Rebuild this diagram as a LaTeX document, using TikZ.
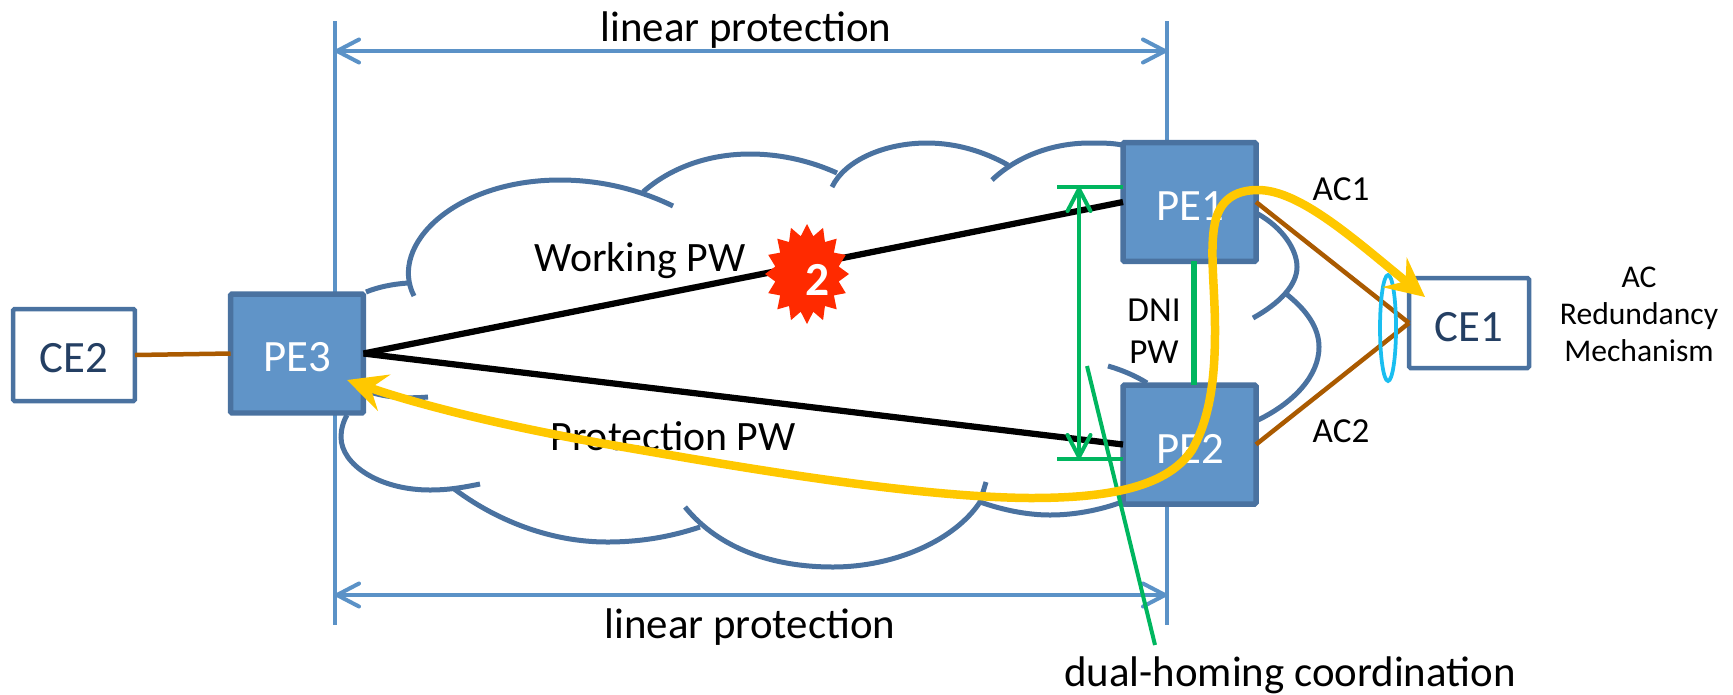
\documentclass[tikz,border=0pt]{standalone}
\usepackage{fontspec}
\setmainfont{Carlito}
\usetikzlibrary{arrows.meta,shapes.geometric}
\definecolor{boxfill}{HTML}{6094C8}
\definecolor{boxline}{HTML}{4A72A0}
\definecolor{dimline}{HTML}{5B92C7}
\definecolor{ceink}{HTML}{243F63}
\definecolor{pwgreen}{HTML}{00B65F}
\definecolor{acbrown}{HTML}{AA5A00}
\definecolor{pathyellow}{HTML}{FFC800}
\definecolor{bundleblue}{HTML}{1ABEF0}
\definecolor{faultred}{HTML}{FF2A00}
\tikzset{
	pebox/.style={draw=boxline, fill=boxfill, line width=1.1mm, rounded corners=0.3mm, inner sep=0pt, outer sep=0pt, minimum width=2.66cm, minimum height=2.38cm},
	cebox/.style={draw=boxline, fill=white, line width=0.9mm, rounded corners=0.3mm, inner sep=0pt, outer sep=0pt},
	petext/.style={inner sep=0pt, text=white, font=\fontsize{25.5}{30}\selectfont},
	cetext/.style={inner sep=0pt, text=ceink, font=\fontsize{25.5}{30}\selectfont},
	biglabel/.style={inner sep=0pt, font=\fontsize{24.4}{30}\selectfont},
	midlabel/.style={inner sep=0pt, font=\fontsize{23.8}{30}\selectfont},
	smalllabel/.style={inner sep=0pt, align=center, font=\fontsize{20}{24}\selectfont},
	cloudline/.style={draw=boxline, line width=1mm},
	openboth/.style={line cap=round, {Straight Barb[length=4.4mm,width=4.6mm,line width=0.8mm,round]}-{Straight Barb[length=4.4mm,width=4.6mm,line width=0.8mm,round]}},
	dimrule/.style={draw=dimline, line width=0.7mm}
}

\begin{document}
\begin{tikzpicture}[x=0.02cm, y=-0.02cm]
	\useasboundingbox (0, 0) rectangle (1733, 694);
	%%%%% DIMENSIONS %%%%%
	\coordinate (topleft) at (335, 51);
	\coordinate (topright) at (1167, 51);
	\coordinate (botleft) at (335, 595);
	\coordinate (botright) at (1167, 595);
	\draw[dimrule] (335, 21) -- (335, 625);
	\draw[dimrule] (1167, 21) -- (1167, 141);
	\draw[dimrule] (1167, 505) -- (1167, 625);
	\draw[dimrule, openboth] (topleft) -- (topright);
	\draw[dimrule, openboth] (botleft) -- (botright);
	\node[biglabel] (lineartop) at (746, 30) {linear protection};
	\node[biglabel] (linearbot) at (750, 627) {linear protection};

	%%%%% CLOUD %%%%%
	\draw[cloudline] (366,292) .. controls (378,287) and (393,284) .. (408,283);
	\draw[cloudline] (414,296) .. controls (388,245) and (455,180) .. (560,180) .. controls (602,180) and (640,190) .. (673,206);
	\draw[cloudline] (643,192) .. controls (670,168) and (708,154) .. (750,154) .. controls (785,154) and (815,163) .. (837,173);
	\draw[cloudline] (832,187) .. controls (845,160) and (885,143) .. (927,143) .. controls (957,143) and (985,152) .. (1008,165);
	\draw[cloudline] (992,180) .. controls (1015,158) and (1050,143) .. (1090,143) .. controls (1102,143) and (1112,143) .. (1122,145);
	\draw[cloudline] (1258,214) .. controls (1283,228) and (1297,250) .. (1297,267) .. controls (1297,285) and (1280,303) .. (1253,318);
	\draw[cloudline] (1285,293) .. controls (1307,310) and (1319,328) .. (1319,347) .. controls (1319,375) and (1295,402) .. (1258,420);
	\draw[cloudline] (1108,366) .. controls (1122,370) and (1136,376) .. (1147,383);
	\draw[cloudline] (1122,502) .. controls (1100,510) and (1075,515) .. (1050,515) .. controls (1027,515) and (1003,510) .. (980,502);
	\draw[cloudline] (986,482) -- (980,502);
	\draw[cloudline] (980,502) .. controls (955,540) and (895,567) .. (833,567) .. controls (775,567) and (720,550) .. (685,507);
	\draw[cloudline] (700,527) .. controls (670,537) and (640,542) .. (607,542) .. controls (550,542) and (495,520) .. (453,488);
	\draw[cloudline] (480,484) .. controls (465,487) and (450,490) .. (430,490) .. controls (380,490) and (341,465) .. (341,437) .. controls (341,430) and (343,422) .. (347,415);
	\draw[cloudline] (370,392) .. controls (385,397) and (405,399) .. (428,397);

	%%%%% BOXES %%%%%
	\node[pebox] (pe1) at (1189.5, 202) {};
	\node[pebox] (pe2) at (1189.5, 444.5) {};
	\node[pebox] (pe3) at (297, 353.5) {};
	\node[cebox, minimum width=2.44cm, minimum height=1.84cm] (ce2) at (74, 355) {};
	\node[cebox, minimum width=2.4cm, minimum height=1.8cm] (ce1) at (1469, 323) {};
	\node[petext] (pe1text) at (1190, 206) {PE1};
	\node[petext] (pe2text) at (1190, 449) {PE2};
	\node[petext] (pe3text) at (297, 357) {PE3};
	\node[cetext] (ce2text) at (74, 358) {CE2};
	\node[cetext] (ce1text) at (1469, 327) {CE1};

	%%%%% PSEUDOWIRES %%%%%
	\draw[line width=1.25mm] (pe3.east) -- (pe1.west);
	\draw[line width=1.25mm] (pe3.east) -- (pe2.west);
	\node[star, star points=16, star point ratio=1.3, fill=faultred, inner sep=0pt, minimum size=2cm, xscale=0.84, transform shape] (fault) at (807, 274) {};
	\node[text=white, inner sep=0pt, font=\bfseries\fontsize{27}{30}\selectfont] (faultnum) at (818, 280) {2};
	\node[midlabel] (workinglabel) at (640, 261) {Working PW};
	\node[midlabel] (protectlabel) at (673, 436) {Protection PW};

	%%%%% ATTACHMENT CIRCUITS %%%%%
	\draw[acbrown, line width=0.9mm] (ce2.east) -- (pe3.west);
	\draw[acbrown, line width=0.9mm] (pe1.east) -- (ce1.west);
	\draw[acbrown, line width=0.9mm] (pe2.east) -- (ce1.west);
	\draw[bundleblue, line width=0.75mm] (1388, 328) ellipse (8 and 53);
	\node[smalllabel] (ac1label) at (1341, 189) {AC1};
	\node[smalllabel] (ac2label) at (1341, 431) {AC2};
	\node[smalllabel] (dnilabel) at (1154, 331) {DNI\\PW};
	\node[inner sep=0pt, align=center, font=\fontsize{18}{21}\selectfont] (redundlabel) at (1639, 314) {AC\\Redundancy\\Mechanism};

	%%%%% COORDINATION %%%%%
	\draw[pwgreen, line width=0.8mm] (1057, 187) -- (pe1.west |- 0, 187);
	\draw[pwgreen, line width=0.8mm] (1057, 459) -- (pe2.west |- 0, 459);
	\draw[pwgreen, line width=0.7mm, openboth] (1079, 187) -- (1079, 459);
	\draw[pwgreen, line width=1.2mm] ([xshift=0.08cm]pe1.south) -- ([xshift=0.08cm]pe2.north);
	\draw[pwgreen, line width=0.8mm] (1087, 366) -- (1155, 645);
	\node[biglabel] (dualhoming) at (1290, 675) {dual-homing coordination};

	%%%%% SWITCHED PATH %%%%%
	\draw[pathyellow, line width=1.7mm, {Stealth[length=7.8mm,width=7.6mm,inset=2.8mm]}-{Stealth[length=7.8mm,width=7.6mm,inset=2.8mm]}] (347,380) .. controls (420,405) and (500,425) .. (600,443) .. controls (700,460) and (900,497) .. (1030,498) .. controls (1100,498) and (1165,490) .. (1192,450) .. controls (1212,415) and (1215,370) .. (1215,330) .. controls (1215,290) and (1210,255) .. (1214,228) .. controls (1218,200) and (1235,190) .. (1258,190) .. controls (1300,190) and (1355,240) .. (1425,297);
\end{tikzpicture}
\end{document}
